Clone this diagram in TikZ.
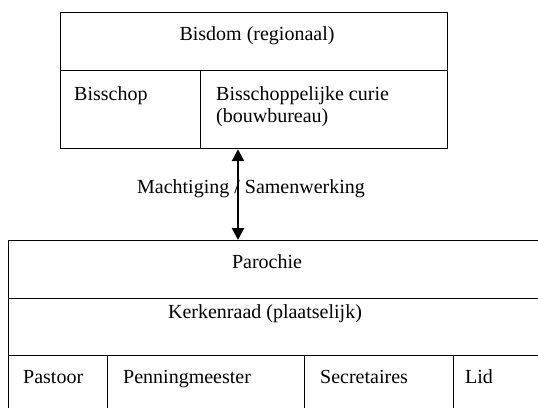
\documentclass[tikz,border=0pt]{standalone}
\usepackage{fontspec}
\setmainfont{Liberation Serif}
\usetikzlibrary{arrows.meta}

\begin{document}
\begin{tikzpicture}[x=1pt,y=-1pt,>={Triangle[length=12pt,width=12pt]},
	cel/.style={draw, rectangle, line width=1.2pt, anchor=north west, inner sep=0pt},
	tekst/.style={inner sep=0pt, font=\fontsize{20}{25}\selectfont}]
	\useasboundingbox (0,0) rectangle (538,407);
	\clip (0,0) rectangle (538,407);
	% bisdom
	\node [cel, minimum width=387pt, minimum height=58pt] (bisdom) at (60,12) {};
	\node [cel, minimum width=140pt, minimum height=78pt] (bisschop) at (60,70) {};
	\node [cel, minimum width=247pt, minimum height=78pt] (curie) at (200,70) {};
	\node [tekst, anchor=base] (bisdomtxt) at (257,40) {Bisdom (regionaal)};
	\node [tekst, anchor=base west] (bisschoptxt) at (74,100) {Bisschop};
	\node [tekst, anchor=base west] (curietxt1) at (216,100) {Bisschoppelijke curie};
	\node [tekst, anchor=base west] (curietxt2) at (216,122) {(bouwbureau)};
	% parochie
	\node [cel, minimum width=560pt, minimum height=58pt] (parochie) at (8,240) {};
	\node [cel, minimum width=560pt, minimum height=57pt] (kerkenraad) at (8,298) {};
	\node [cel, minimum width=99pt, minimum height=70pt] (pastoor) at (8,355) {};
	\node [cel, minimum width=197pt, minimum height=70pt] (penning) at (107,355) {};
	\node [cel, minimum width=149pt, minimum height=70pt] (secretaris) at (304,355) {};
	\node [cel, minimum width=150pt, minimum height=70pt] (lid) at (453,355) {};
	\node [tekst, anchor=base] (parochietxt) at (267,268) {Parochie};
	\node [tekst, anchor=base] (kerkenraadtxt) at (265,318) {Kerkenraad (plaatselijk)};
	\node [tekst, anchor=base west] (pastoortxt) at (23,383) {Pastoor};
	\node [tekst, anchor=base west] (penningtxt) at (123,383) {Penningmeester};
	\node [tekst, anchor=base west] (secretaristxt) at (320,383) {Secretaires};
	\node [tekst, anchor=base west] (lidtxt) at (465,383) {Lid};
	% verbinding
	\node [tekst, anchor=base] (machtiging) at (251,193) {Machtiging / Samenwerking};
	\coordinate (pijlx) at (238,0);
	\draw [<->, line width=2.5pt] (pijlx |- curie.south) -- (pijlx |- parochie.north);
\end{tikzpicture}
\end{document}
